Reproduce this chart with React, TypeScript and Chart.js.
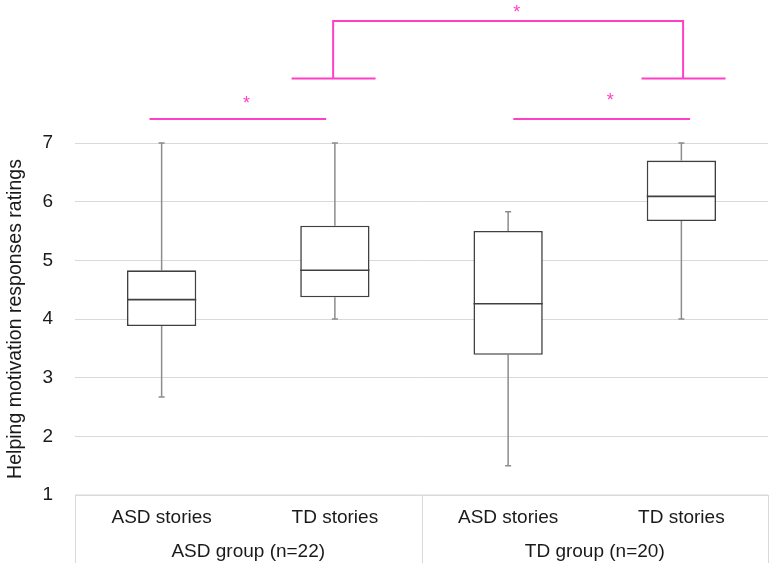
import React, { useEffect, useRef } from "react";
import { Chart, registerables } from "chart.js";

Chart.register(...registerables);

// ---- data ----
const categories = ["ASD stories", "TD stories", "ASD stories", "TD stories"];
const groups = ["ASD group (n=22)", "TD group (n=20)"];
const groupSpans = [[0, 1], [2, 3]];
const mins = [2.67, 4.0, 1.5, 4.0];
const q1s = [3.88, 4.37, 3.39, 5.67];
const medians = [4.33, 4.83, 4.26, 6.09];
const q3s = [4.83, 5.59, 5.5, 6.7];
const maxs = [7, 7, 5.83, 7];
const yMin = 1;
const yMax = 7;
const yStep = 1;
const yTitle = "Helping motivation responses ratings";

// significance annotations (category units / rating units)
const sigLines = [
  { x0: -0.07, x1: 0.95, y: 7.41 },
  { x0: 2.03, x1: 3.05, y: 7.41 },
  { x0: 0.75, x1: 1.235, y: 8.1 },
  { x0: 2.77, x1: 3.255, y: 8.1 },
];
const sigBridge = { x0: 0.99, x1: 3.01, yLow: 8.1, yHigh: 9.08 };
const sigStars = [
  { x: 0.49, y: 7.75 },
  { x: 2.59, y: 7.8 },
  { x: 2.05, y: 9.31 },
];

const PINK = "#ff40c6";
const FONT = "'Liberation Sans', Arial, sans-serif";

const boxPlugin = {
  id: "boxExtras",
  beforeDatasetsDraw(chart: any) {
    const { ctx, scales } = chart;
    const x = scales.x, y = scales.y;
    ctx.save();
    ctx.strokeStyle = "#8c8c8c";
    ctx.lineWidth = 1.5;
    for (let i = 0; i < categories.length; i++) {
      const cx = x.getPixelForValue(i);
      const segs = [[q3s[i], maxs[i]], [q1s[i], mins[i]]];
      for (const [a, b] of segs) {
        const ya = y.getPixelForValue(a), yb = y.getPixelForValue(b);
        ctx.beginPath();
        ctx.moveTo(cx, ya);
        ctx.lineTo(cx, yb);
        ctx.moveTo(cx - 3, yb);
        ctx.lineTo(cx + 3, yb);
        ctx.stroke();
      }
    }
    ctx.restore();
  },
  afterDatasetsDraw(chart: any) {
    const { ctx, scales } = chart;
    const x = scales.x, y = scales.y;
    const meta = chart.getDatasetMeta(0);
    ctx.save();
    ctx.strokeStyle = "#404040";
    ctx.lineWidth = 1.6;
    meta.data.forEach((bar: any, i: number) => {
      const half = bar.width / 2;
      const cx = x.getPixelForValue(i);
      const my = y.getPixelForValue(medians[i]);
      ctx.beginPath();
      ctx.moveTo(cx - half, my);
      ctx.lineTo(cx + half, my);
      ctx.stroke();
    });
    ctx.restore();
  },
  afterDraw(chart: any) {
    const { ctx, scales, chartArea } = chart;
    const x = scales.x, y = scales.y;
    const top = chartArea.bottom;
    const bottom = chart.height;
    ctx.save();
    // table
    ctx.strokeStyle = "#d9d9d9";
    ctx.lineWidth = 1;
    ctx.beginPath();
    ctx.moveTo(chartArea.left, top);
    ctx.lineTo(chartArea.right, top);
    const bounds = [-0.5, 1.5, categories.length - 0.5];
    for (const b of bounds) {
      const px = Math.round(x.getPixelForValue(b)) + 0.5;
      ctx.moveTo(px, top);
      ctx.lineTo(px, bottom);
    }
    ctx.stroke();
    ctx.fillStyle = "#1a1a1a";
    ctx.font = `19px ${FONT}`;
    ctx.textAlign = "center";
    ctx.textBaseline = "middle";
    categories.forEach((c, i) => {
      ctx.fillText(c, x.getPixelForValue(i), top + 23);
    });
    groups.forEach((g, gi) => {
      const [a, b] = groupSpans[gi];
      ctx.fillText(g, x.getPixelForValue((a + b) / 2), top + 57);
    });
    // significance
    ctx.strokeStyle = PINK;
    ctx.lineWidth = 2;
    ctx.beginPath();
    for (const l of sigLines) {
      const py = y.getPixelForValue(l.y);
      ctx.moveTo(x.getPixelForValue(l.x0), py);
      ctx.lineTo(x.getPixelForValue(l.x1), py);
    }
    const bl = x.getPixelForValue(sigBridge.x0);
    const br = x.getPixelForValue(sigBridge.x1);
    const yl = y.getPixelForValue(sigBridge.yLow);
    const yh = y.getPixelForValue(sigBridge.yHigh);
    ctx.moveTo(bl, yl);
    ctx.lineTo(bl, yh);
    ctx.lineTo(br, yh);
    ctx.lineTo(br, yl);
    ctx.stroke();
    ctx.fillStyle = PINK;
    ctx.font = `18px ${FONT}`;
    ctx.textBaseline = "alphabetic";
    for (const s of sigStars) {
      ctx.fillText("*", x.getPixelForValue(s.x), y.getPixelForValue(s.y) + 18 * 0.57);
    }
    ctx.restore();
  },
};

export default function App() {
  const ref = useRef<HTMLCanvasElement>(null);
  useEffect(() => {
    document.body.style.margin = "0";
    const chart = new Chart(ref.current!, {
      type: "bar",
      data: {
        labels: categories,
        datasets: [
          {
            data: categories.map((_, i) => [q1s[i], q3s[i]]) as any,
            backgroundColor: "#ffffff",
            borderColor: "#404040",
            borderWidth: 1.6,
            borderSkipped: false,
            barPercentage: 0.4,
            categoryPercentage: 1,
          },
        ],
      },
      options: {
        responsive: false,
        animation: false,
        devicePixelRatio: 1,
        layout: { padding: { top: 143, bottom: 68, right: 4, left: 0 } },
        plugins: { legend: { display: false }, tooltip: { enabled: false } },
        scales: {
          x: { display: false, offset: true },
          y: {
            min: yMin,
            max: yMax,
            afterFit: (s: any) => {
              s.width = 75;
            },
            border: { display: false },
            grid: { color: "#d9d9d9", drawTicks: false, lineWidth: 1 },
            ticks: {
              stepSize: yStep,
              padding: 22,
              color: "#1a1a1a",
              font: { family: FONT, size: 19 },
            },
            title: {
              display: true,
              text: yTitle,
              color: "#1a1a1a",
              font: { family: FONT, size: 19.5 },
              padding: { top: 4, bottom: 0 },
            },
          },
        },
      },
      plugins: [boxPlugin],
    });
    return () => chart.destroy();
  }, []);
  return (
    <div style={{ position: "absolute", left: 0, top: 0, width: 772, height: 563 }}>
      <canvas ref={ref} width={772} height={563} style={{ width: 772, height: 563 }} />
    </div>
  );
}
